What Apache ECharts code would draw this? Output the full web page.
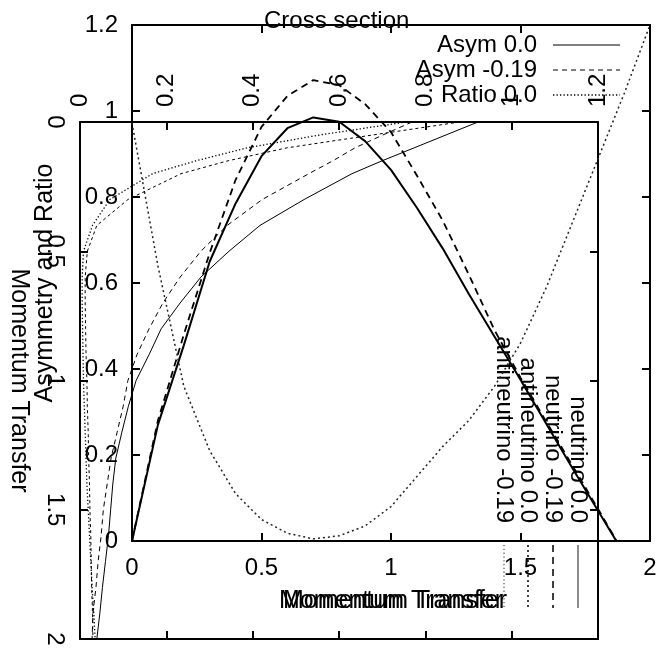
<!DOCTYPE html>
<html><head><meta charset="utf-8">
<script src="https://cdn.jsdelivr.net/npm/echarts@6/dist/echarts.min.js"></script>
<style>html,body{margin:0;padding:0;background:#fff}#c{width:667px;height:652px}</style>
</head><body><div id="c"></div>
<script>
// ---- Cross section panel (momentum transfer vs cross section) ----
const momentum1 = [0,0.1,0.2,0.3,0.4,0.5,0.6,0.7,0.8,0.9,1.0,1.1,1.2,1.3,1.4,1.5,1.6,1.7,1.8,1.9,2.0];
const nu00   = [0,0.27,0.455,0.65,0.785,0.895,0.96,0.985,0.975,0.93,0.863,0.775,0.68,0.575,0.475,0.375,0.272,0.17,0.07,-0.03];
const nu019  = [0,0.28,0.48,0.67,0.84,0.963,1.035,1.072,1.06,1.016,0.951,0.85,0.745,0.62,0.49,0.38,0.277,0.176,0.074,-0.03];
const anti00 = [0.972,0.64,0.36,0.21,0.11,0.05,0.018,0.005,0.012,0.035,0.08,0.15,0.22,0.28,0.36,0.46,0.59,0.74,0.89,1.04,1.2];
const crossNames = ['neutrino 0.0','neutrino -0.19','antineutrino 0.0','antineutrino -0.19'];

// ---- Asymmetry / ratio panel (rotated: value across, momentum down) ----
const momentum2 = [0,0.05,0.1,0.15,0.2,0.3,0.4,0.5,0.6,0.7,0.8,0.9,1.0,1.1,1.2,1.3,1.4,1.5,1.6,1.7,1.8,1.9,2.0];
const asym00   = [0.922,0.848,0.774,0.700,0.630,0.519,0.417,0.345,0.280,0.232,0.188,0.160,0.130,0.112,0.097,0.083,0.076,0.071,0.066,0.059,0.052,0.046,0.039];
const asym019  = [0.769,0.702,0.637,0.586,0.530,0.422,0.341,0.280,0.232,0.192,0.160,0.132,0.111,0.100,0.086,0.072,0.063,0.054,0.049,0.042,0.037,0.030,0.028];
const ratio00  = [0.755,0.556,0.387,0.269,0.168,0.069,0.029,0.008,0.005,0.005,0.006,0.007,0.008,0.010,0.012,0.014,0.016,0.019,0.022,0.025,0.028,0.032,0.035];
const ratio019 = [0.88,0.679,0.479,0.343,0.234,0.111,0.039,0.017,0.012,0.012,0.013,0.014,0.016,0.017,0.019,0.020,0.022,0.023,0.025,0.026,0.027,0.029,0.030];
const asymNames = ['Asym 0.0','Asym -0.19','Ratio 0.0','Ratio -0.19'];

const FONT = 'Liberation Sans, Arial, Helvetica, sans-serif';
const FS = 24;
const NFS = 25;
const line = {show:true, onZero:false, lineStyle:{color:'#000', width:2}};
const tick = {show:true, inside:true, length:8, lineStyle:{color:'#000', width:2}};
const lab = (o) => Object.assign({color:'#000', fontSize:FS, fontFamily:FONT}, o||{});
const nameLab = (o) => Object.assign({color:'#000', fontSize:NFS, fontFamily:FONT}, o||{});
const noLab = {show:false};

function pairsX(xs, ys){ return ys.map((v,i)=>[xs[i], v]); }
function pairsRot(ms, vs){ return vs.map((v,i)=>[v, ms[i]]); }

const chart = echarts.init(document.getElementById('c'), null, {renderer:'canvas'});

// line styles shared by series and legend samples
const crossStyles = [
  {color:'#000', width:2, type:'solid'},
  {color:'#000', width:1.8, type:[7,5]},
  {color:'#222', width:1.5, type:[2,3]},
  {color:'#555', width:1.5, type:[1.3,2.5]}
];
const asymStyles = [
  {color:'#000', width:1, type:'solid'},
  {color:'#000', width:1, type:[5,4]},
  {color:'#000', width:1.3, type:[1.3,2.2]},
  {color:'#000', width:1, type:[3,3]}
];
const sampleStroke = (s, col) => ({stroke:col||s.color, lineWidth:s.width>1.5?1.5:s.width,
  lineDash: s.type==='solid'?null:s.type, fill:null});

const graphics = [];
// rotated legend of the cross-section panel
const legendX = [578, 553, 528, 504];
const legendCol = ['#666','#000','#000','#777'];
crossNames.forEach((n,i)=>{
  graphics.push({type:'text', x:legendX[i]-0.5, y:523, rotation:-Math.PI/2, silent:true,
    style:{text:n, fill:'#000', fontSize:FS, fontFamily:FONT, align:'right', verticalAlign:'middle'}});
  graphics.push({type:'line', silent:true, shape:{x1:legendX[i], y1:545, x2:legendX[i], y2:608},
    style:sampleStroke(crossStyles[i], legendCol[i])});
});
// key of the asymmetry panel
const keyY = [45, 70, 95];
asymNames.slice(0,3).forEach((n,i)=>{
  graphics.push({type:'text', x:537, y:keyY[i], silent:true,
    style:{text:n, fill:'#000', fontSize:FS, fontFamily:FONT, align:'right', verticalAlign:'middle'}});
  graphics.push({type:'line', silent:true, shape:{x1:553, y1:keyY[i], x2:620, y2:keyY[i]},
    style:sampleStroke(asymStyles[i])});
});

const option = {
  animation:false,
  backgroundColor:'#fff',
  title:{text:'Cross section', left:264, top:9, padding:0,
    textStyle:{color:'#000', fontSize:FS, fontWeight:'normal', fontFamily:FONT}},
  graphic:graphics,
  grid:[
    {left:132, top:25, width:518, height:516, outerBoundsMode:'none', containLabel:false},
    {left:80, top:122, width:518, height:517, outerBoundsMode:'none', containLabel:false}
  ],
  xAxis:[
    {gridIndex:0, type:'value', position:'bottom', min:0, max:2, interval:0.5,
     axisLine:line, axisTick:tick, splitLine:{show:false}, axisLabel:lab({margin:15}),
     name:'Momentum Transfer', nameLocation:'middle', nameGap:48, nameTextStyle:nameLab()},
    {gridIndex:0, type:'value', position:'top', min:0, max:2, interval:0.5,
     axisLine:line, axisTick:tick, splitLine:{show:false}, axisLabel:noLab},
    {gridIndex:0, type:'value', position:'bottom', min:0, max:2, interval:0.5,
     axisLine:{show:false, onZero:false}, axisTick:{show:false}, splitLine:{show:false}, axisLabel:noLab,
     name:'Momentum Transfer', nameLocation:'middle', nameGap:48, nameTextStyle:nameLab({padding:[0,0,0,8]})},
    {gridIndex:1, type:'value', position:'top', min:0, max:1.2, interval:0.2,
     axisLine:line, axisTick:tick, splitLine:{show:false}, axisLabel:lab({rotate:-90, margin:15})},
    {gridIndex:1, type:'value', position:'bottom', min:0, max:1.2, interval:0.2,
     axisLine:line, axisTick:tick, splitLine:{show:false}, axisLabel:noLab}
  ],
  yAxis:[
    {gridIndex:0, type:'value', position:'left', min:0, max:1.2, interval:0.2,
     axisLine:line, axisTick:tick, splitLine:{show:false}, axisLabel:lab({margin:14}),
     name:'Asymmetry and Ratio', nameLocation:'middle', nameGap:74, nameRotate:90, nameTextStyle:nameLab()},
    {gridIndex:0, type:'value', position:'right', min:0, max:1.2, interval:0.2,
     axisLine:line, axisTick:tick, splitLine:{show:false}, axisLabel:noLab},
    {gridIndex:1, type:'value', position:'left', inverse:true, min:0, max:2, interval:0.5,
     axisLine:line, axisTick:tick, splitLine:{show:false}, axisLabel:lab({rotate:-90, margin:13}),
     name:'Momentum Transfer', nameLocation:'middle', nameGap:49, nameRotate:-90, nameTextStyle:nameLab()},
    {gridIndex:1, type:'value', position:'right', inverse:true, min:0, max:2, interval:0.5,
     axisLine:line, axisTick:tick, splitLine:{show:false}, axisLabel:noLab}
  ],
  series:[
    {name:crossNames[0], type:'line', xAxisIndex:0, yAxisIndex:0, data:pairsX(momentum1, nu00),
     symbol:'none', silent:true, lineStyle:crossStyles[0]},
    {name:crossNames[1], type:'line', xAxisIndex:0, yAxisIndex:0, data:pairsX(momentum1, nu019),
     symbol:'none', silent:true, lineStyle:crossStyles[1]},
    {name:crossNames[2], type:'line', xAxisIndex:0, yAxisIndex:0, data:pairsX(momentum1, anti00),
     symbol:'none', silent:true, lineStyle:crossStyles[2]},
    {name:asymNames[0], type:'line', xAxisIndex:3, yAxisIndex:2, data:pairsRot(momentum2, asym00),
     symbol:'none', silent:true, lineStyle:asymStyles[0]},
    {name:asymNames[1], type:'line', xAxisIndex:3, yAxisIndex:2, data:pairsRot(momentum2, asym019),
     symbol:'none', silent:true, lineStyle:asymStyles[1]},
    {name:asymNames[2], type:'line', xAxisIndex:3, yAxisIndex:2, data:pairsRot(momentum2, ratio00),
     symbol:'none', silent:true, lineStyle:asymStyles[2]},
    {name:asymNames[3], type:'line', xAxisIndex:3, yAxisIndex:2, data:pairsRot(momentum2, ratio019),
     symbol:'none', silent:true, lineStyle:asymStyles[3]}
  ]
};
chart.setOption(option);
</script>
</body></html>
